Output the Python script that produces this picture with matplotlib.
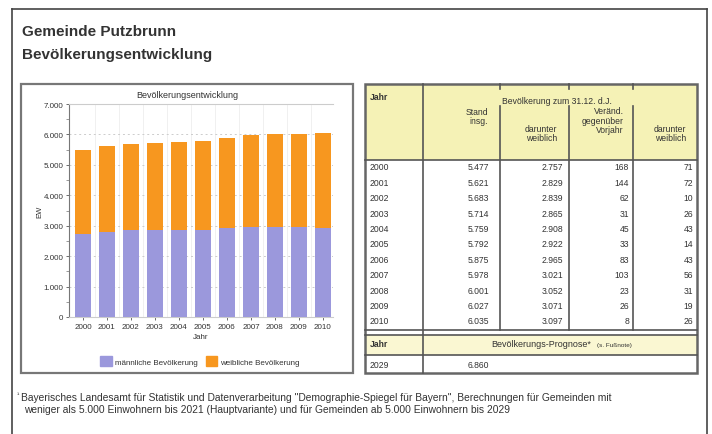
import matplotlib
matplotlib.use("Agg")
import matplotlib.pyplot as plt
from matplotlib.patches import Rectangle, Patch
import numpy as np

plt.rcParams['font.family'] = ['Liberation Sans', 'DejaVu Sans']

# data from the table
years = [2000, 2001, 2002, 2003, 2004, 2005, 2006, 2007, 2008, 2009, 2010]
stand = [5477, 5621, 5683, 5714, 5759, 5792, 5875, 5978, 6001, 6027, 6035]
weiblich = [2757, 2829, 2839, 2865, 2908, 2922, 2965, 3021, 3052, 3071, 3097]
veraend = [168, 144, 62, 31, 45, 33, 83, 103, 23, 26, 8]
veraend_w = [71, 72, 10, 26, 43, 14, 43, 56, 31, 19, 26]
prog_year = 2029
prog_value = 6860

maennlich = [s - w for s, w in zip(stand, weiblich)]

PURPLE = '#9b98dc'
ORANGE = '#f7971f'
YELLOW = '#f5f2b6'
YELLOW2 = '#faf7d2'
LINE = '#555555'
TXT = '#333333'

def de(n):
  return f"{n:,}".replace(",", ".")

W, H = 712, 435
fig = plt.figure(figsize=(W/100, H/100), dpi=100)
fig.patch.set_facecolor('white')

# background axes in pixel coords
bg = fig.add_axes([0, 0, 1, 1])
bg.set_xlim(0, W)
bg.set_ylim(H, 0)
bg.axis('off')

# document frame
bg.plot([12, 12], [H+5, 10], color='#444444', lw=1.2)
bg.plot([12, 707], [10, 10], color='#444444', lw=1.2)
bg.plot([707, 707], [10, H+5], color='#444444', lw=1.2)

bg.text(22, 32, "Gemeinde Putzbrunn", fontsize=11, fontweight='bold',
        color=TXT, va='center')
bg.text(22, 55, "Bevölkerungsentwicklung", fontsize=11, fontweight='bold',
        color=TXT, va='center')

# chart box
bg.add_patch(Rectangle((21, 85), 332, 289, fill=False, ec='#777777', lw=1.6))
bg.text(187, 96, "Bevölkerungsentwicklung", fontsize=6.5, color=TXT,
        ha='center', va='center')
bg.text(40, 212, "EW", fontsize=5.5, color=TXT, rotation=90,
        ha='center', va='center')
bg.text(201, 338, "Jahr", fontsize=5.8, color=TXT, ha='center', va='center')

# table
tl, tr = 365, 697
bg.add_patch(Rectangle((tl, 85), tr-tl, 76, fc=YELLOW, ec='none'))
bg.add_patch(Rectangle((tl, 336), tr-tl, 20, fc=YELLOW2, ec='none'))
bg.add_patch(Rectangle((tl, 85), tr-tl, 289, fill=False, ec='#666666', lw=1.8))
bg.plot([tl, tr], [161, 161], color=LINE, lw=1.2)
bg.plot([tl, tr], [331, 331], color=LINE, lw=1.2)
bg.plot([tl, tr], [336, 336], color=LINE, lw=1.2)
bg.plot([tl, tr], [356, 356], color=LINE, lw=1.2)
bg.plot([423, 423], [85, 374], color=LINE, lw=1.2)
for xv in [500, 569, 633]:
  bg.plot([xv, xv], [85, 90], color=LINE, lw=1.2)
  bg.plot([xv, xv], [107, 331], color=LINE, lw=1.2)

fs = 6.2
bg.text(370, 97, "Jahr", fontsize=fs, fontweight='bold', color=TXT, va='center')
bg.text(557, 102, "Bevölkerung zum 31.12. d.J.", fontsize=fs, color=TXT,
        ha='center', va='center')
bg.text(488, 117, "Stand\ninsg.", fontsize=fs, color=TXT, ha='right',
        va='center', multialignment='right', linespacing=1.1)
bg.text(557, 134, "darunter\nweiblich", fontsize=fs, color=TXT, ha='right',
        va='center', multialignment='right', linespacing=1.1)
bg.text(624, 121, "Veränd.\ngegenüber\nVorjahr", fontsize=fs, color=TXT,
        ha='right', va='center', multialignment='right', linespacing=1.1)
bg.text(686, 134, "darunter\nweiblich", fontsize=fs, color=TXT, ha='right',
        va='center', multialignment='right', linespacing=1.1)

y0, dy = 168, 15.4
for i, yr in enumerate(years):
  yy = y0 + i*dy
  bg.text(370, yy, str(yr), fontsize=fs, color=TXT, va='center')
  bg.text(489, yy, de(stand[i]), fontsize=fs, color=TXT, ha='right', va='center')
  bg.text(563, yy, de(weiblich[i]), fontsize=fs, color=TXT, ha='right', va='center')
  bg.text(629, yy, str(veraend[i]), fontsize=fs, color=TXT, ha='right', va='center')
  bg.text(693, yy, str(veraend_w[i]), fontsize=fs, color=TXT, ha='right', va='center')

bg.text(370, 345, "Jahr", fontsize=fs, fontweight='bold', color=TXT, va='center')
bg.text(541, 345, "Bevölkerungs-Prognose*", fontsize=6.5, color=TXT,
        ha='center', va='center')
bg.text(597, 345.5, "(s. Fußnote)", fontsize=4.6, color=TXT, va='center')
bg.text(370, 366, str(prog_year), fontsize=fs, color=TXT, va='center')
bg.text(489, 366, de(prog_value), fontsize=fs, color=TXT, ha='right', va='center')

# footnote
bg.text(17, 396, "¹", fontsize=5, color=TXT, va='center')
bg.text(21, 398, "Bayerisches Landesamt für Statistik und Datenverarbeitung "
        "\"Demographie-Spiegel für Bayern\", Berechnungen für Gemeinden mit",
        fontsize=7.4, color=TXT, va='center')
bg.text(24, 410, "weniger als 5.000 Einwohnern bis 2021 (Hauptvariante) und "
        "für Gemeinden ab 5.000 Einwohnern bis 2029",
        fontsize=7.4, color=TXT, va='center')

# bar chart
ax = fig.add_axes([69/W, 1-318/H, (333-69)/W, (318-105)/H])
x = np.arange(len(years))
ax.bar(x, maennlich, width=0.66, color=PURPLE, zorder=3)
ax.bar(x, weiblich, bottom=maennlich, width=0.66, color=ORANGE, zorder=3)
ax.set_xlim(-0.58, 10.42)
ax.set_ylim(0, 7000)
ax.set_yticks(range(0, 7001, 1000))
ax.set_yticklabels([de(v) for v in range(0, 7001, 1000)])
ax.set_yticks(range(500, 7000, 1000), minor=True)
ax.set_xticks(x)
ax.set_xticklabels([str(y) for y in years])
ax.tick_params(axis='both', labelsize=5.8, colors='#555555', length=2,
               width=0.6, labelcolor=TXT, pad=2)
ax.tick_params(axis='y', which='minor', length=2, width=0.6, colors='#888888')
ax.grid(axis='y', color='#cccccc', ls=(0, (2, 3)), lw=0.7, zorder=0)
for xv in x[:-1] + 0.5:
  ax.axvline(xv, color='#eeeeee', lw=0.6, zorder=0)
ax.spines['right'].set_visible(False)
ax.spines['top'].set_color('#cccccc')
ax.spines['left'].set_color('#777777')
ax.spines['bottom'].set_color('#cccccc')

handles = [Patch(color=PURPLE, label='männliche Bevölkerung'),
           Patch(color=ORANGE, label='weibliche Bevölkerung')]
fig.legend(handles=handles, loc='center', ncol=2, frameon=False,
           bbox_to_anchor=(200/W, 1-362/H), fontsize=5.8,
           handlelength=1.4, handleheight=1.5, columnspacing=1.0,
           handletextpad=0.4, labelcolor=TXT)

fig.savefig("out.png", dpi=100, facecolor='white')
